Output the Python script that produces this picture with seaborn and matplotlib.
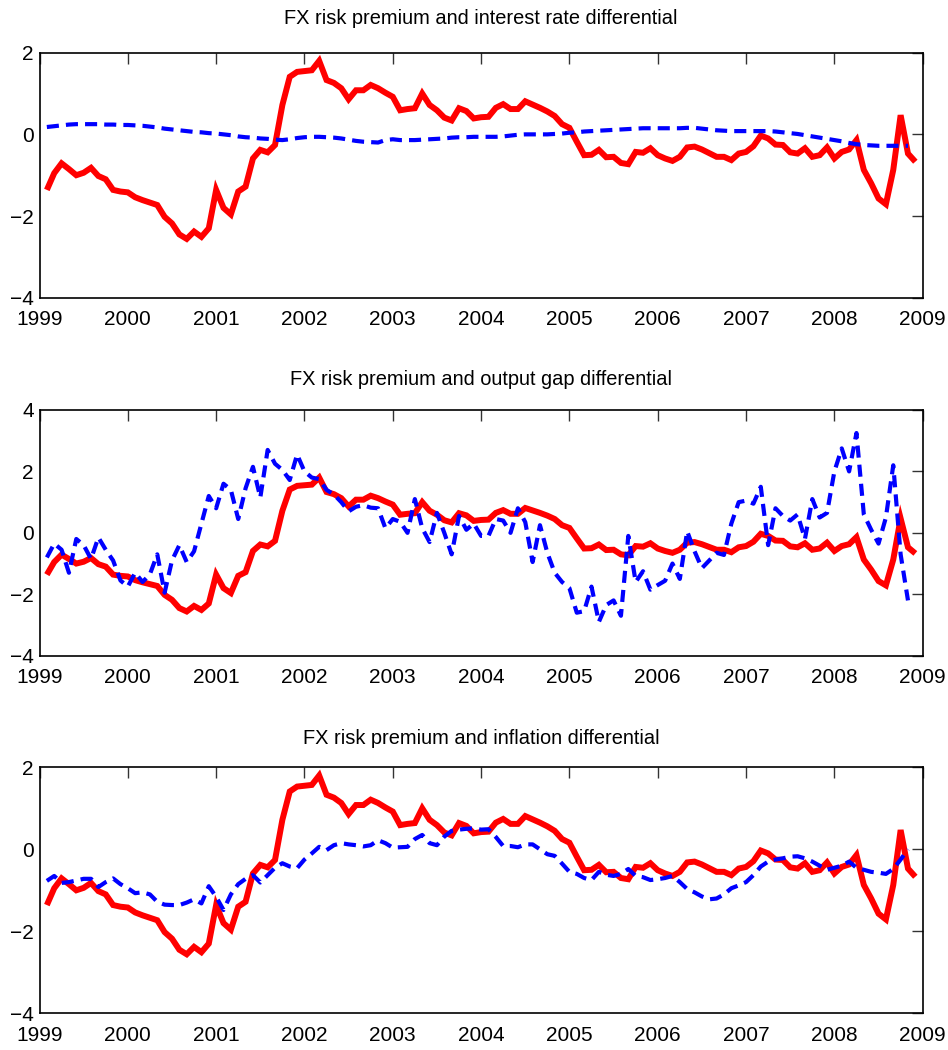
import numpy as np
import pandas as pd
import matplotlib
matplotlib.use("Agg")
import matplotlib.pyplot as plt
from matplotlib import font_manager
import seaborn as sns

# Monthly observations, January 1999 onwards
fx_premium = [
    -1.36, -0.95, -0.71, -0.85, -1.00, -0.94, -0.82, -1.02, -1.10, -1.36, -1.40, -1.42,
    -1.54, -1.61, -1.67, -1.73, -2.02, -2.18, -2.45, -2.56, -2.38, -2.51, -2.30, -1.36,
    -1.80, -1.96, -1.40, -1.28, -0.59, -0.38, -0.44, -0.26, 0.72, 1.41, 1.53, 1.55,
    1.57, 1.80, 1.33, 1.26, 1.13, 0.86, 1.08, 1.08, 1.21, 1.13, 1.02, 0.92,
    0.59, 0.62, 0.64, 1.00, 0.72, 0.59, 0.41, 0.34, 0.64, 0.57, 0.39, 0.42,
    0.43, 0.65, 0.74, 0.62, 0.62, 0.81, 0.73, 0.65, 0.56, 0.45, 0.25, 0.16,
    -0.18, -0.51, -0.50, -0.38, -0.56, -0.55, -0.70, -0.73, -0.43, -0.45, -0.34, -0.51,
    -0.59, -0.65, -0.55, -0.32, -0.30, -0.37, -0.46, -0.55, -0.55, -0.63, -0.47, -0.43,
    -0.29, -0.03, -0.10, -0.25, -0.26, -0.44, -0.47, -0.34, -0.55, -0.51, -0.32, -0.59,
    -0.43, -0.37, -0.14, -0.87, -1.20, -1.57, -1.71, -0.87, 0.47, -0.47, -0.67,
]

interest_diff = [
    0.18, 0.20, 0.22, 0.24, 0.25, 0.25, 0.25, 0.25, 0.24, 0.24, 0.23, 0.23,
    0.22, 0.21, 0.19, 0.17, 0.14, 0.12, 0.10, 0.08, 0.06, 0.05, 0.03, 0.02,
    0.00, -0.02, -0.05, -0.07, -0.08, -0.10, -0.11, -0.13, -0.14, -0.12, -0.09, -0.07,
    -0.06, -0.06, -0.07, -0.08, -0.10, -0.13, -0.16, -0.18, -0.19, -0.20, -0.14, -0.12,
    -0.14, -0.14, -0.14, -0.13, -0.12, -0.11, -0.10, -0.08, -0.07, -0.07, -0.06, -0.06,
    -0.06, -0.06, -0.05, -0.03, -0.01, 0.00, 0.00, 0.00, 0.00, 0.01, 0.02, 0.04,
    0.05, 0.07, 0.08, 0.09, 0.10, 0.11, 0.12, 0.13, 0.14, 0.15, 0.15, 0.15,
    0.15, 0.15, 0.15, 0.16, 0.16, 0.14, 0.12, 0.10, 0.09, 0.08, 0.08, 0.08,
    0.08, 0.08, 0.08, 0.07, 0.05, 0.03, 0.01, -0.02, -0.05, -0.08, -0.11, -0.14,
    -0.17, -0.21, -0.24, -0.26, -0.27, -0.28, -0.28, -0.28, -0.28, -0.28,
]

output_gap_diff = [
    -0.80, -0.35, -0.55, -1.30, -0.20, -0.40, -0.85, -0.15, -0.55, -0.90, -1.55, -1.75,
    -1.30, -1.60, -1.35, -0.70, -1.95, -0.90, -0.40, -0.95, -0.60, 0.30, 1.20, 0.80,
    1.60, 1.40, 0.45, 1.45, 2.15, 1.15, 2.70, 2.25, 2.05, 1.72, 2.55, 2.00,
    1.80, 1.75, 1.40, 1.25, 1.00, 0.70, 0.85, 0.90, 0.82, 0.80, 0.15, 0.45,
    0.36, 0.00, 1.10, 0.15, -0.30, 0.65, 0.00, -0.70, 0.55, 0.10, 0.30, -0.10,
    -0.10, 0.45, 0.40, 0.00, 0.80, 0.35, -0.95, 0.25, -0.65, -1.30, -1.60, -1.80,
    -2.60, -2.55, -1.75, -2.90, -2.35, -2.20, -2.70, -0.10, -1.60, -1.25, -1.85, -1.70,
    -1.56, -1.00, -1.50, 0.05, -0.60, -1.15, -0.90, -0.65, -0.72, 0.30, 1.00, 1.05,
    0.95, 1.50, -0.40, 0.80, 0.55, 0.40, 0.60, -0.20, 1.10, 0.50, 0.65, 2.00,
    2.75, 2.00, 3.25, 0.60, 0.10, -0.35, 0.50, 2.20, -0.70, -2.20,
]

inflation_diff = [
    -0.77, -0.65, -0.82, -0.80, -0.76, -0.72, -0.72, -0.92, -0.80, -0.71, -0.85, -0.95,
    -1.07, -1.05, -1.10, -1.28, -1.35, -1.36, -1.36, -1.30, -1.22, -1.32, -0.90, -1.16,
    -1.48, -1.10, -0.85, -0.72, -0.63, -0.81, -0.63, -0.45, -0.34, -0.42, -0.46, -0.25,
    -0.10, 0.06, -0.02, 0.10, 0.15, 0.12, 0.10, 0.07, 0.10, 0.22, 0.15, 0.04,
    0.05, 0.06, 0.25, 0.35, 0.15, 0.10, 0.31, 0.45, 0.48, 0.50, 0.51, 0.48,
    0.49, 0.30, 0.08, 0.08, 0.05, 0.12, 0.12, 0.00, -0.12, -0.16, -0.35, -0.55,
    -0.60, -0.70, -0.75, -0.55, -0.62, -0.65, -0.60, -0.48, -0.65, -0.68, -0.75, -0.73,
    -0.70, -0.65, -0.80, -0.97, -1.05, -1.15, -1.22, -1.20, -1.10, -0.95, -0.88, -0.80,
    -0.63, -0.42, -0.30, -0.25, -0.22, -0.18, -0.17, -0.22, -0.30, -0.40, -0.50, -0.45,
    -0.40, -0.30, -0.45, -0.50, -0.55, -0.57, -0.60, -0.48, -0.25, 0.00,
]

titles = [
    "FX risk premium and interest rate differential",
    "FX risk premium and output gap differential",
    "FX risk premium and inflation differential",
]
y_limits = [(-4, 2), (-4, 4), (-4, 2)]
y_ticks = [[-4, -2, 0, 2], [-4, -2, 0, 2, 4], [-4, -2, 0, 2]]
year_ticks = list(range(1999, 2010))


def decimal_years(n):
    months = pd.date_range("1999-01-01", periods=n, freq="MS")
    return months.year + months.month / 12.0


sns.set_theme(style="white")
available = {f.name for f in font_manager.fontManager.ttflist}
if "Liberation Sans Narrow" in available:
    family, tick_size, title_size = "Liberation Sans Narrow", 18, 16.5
else:
    family, tick_size, title_size = "Liberation Sans", 15, 14.4
plt.rcParams["font.family"] = [family, "DejaVu Sans"]

W, H = 948, 1050
fig = plt.figure(figsize=(W / 100, H / 100), dpi=100)

# axes boxes in pixels: (left, top, right, bottom)
boxes = [(39.5, 52.7, 922.7, 297.7), (39.5, 410.0, 922.7, 655.7), (39.5, 767.3, 922.7, 1013.3)]
title_offsets = [34, 30, 29]

blue_series = [interest_diff, output_gap_diff, inflation_diff]

for i, (l, t, r, b) in enumerate(boxes):
    ax = fig.add_axes([l / W, 1 - b / H, (r - l) / W, (b - t) / H])
    red_df = pd.DataFrame({"year": decimal_years(len(fx_premium)), "value": fx_premium})
    blue_df = pd.DataFrame({"year": decimal_years(len(blue_series[i])), "value": blue_series[i]})
    sns.lineplot(data=red_df, x="year", y="value", ax=ax, color="#ff0000",
                 linewidth=4.3, solid_joinstyle="miter", solid_capstyle="butt")
    sns.lineplot(data=blue_df, x="year", y="value", ax=ax, color="#0000ff",
                 linewidth=3.0)
    ax.lines[-1].set_dashes((2.9, 1.7))
    ax.lines[-1].set_dash_capstyle("butt")

    ax.set_xlim(1999, 2009)
    ax.set_ylim(*y_limits[i])
    ax.set_xticks(year_ticks)
    ax.set_yticks(y_ticks[i])
    ax.set_xlabel("")
    ax.set_ylabel("")
    ax.tick_params(direction="in", length=8, width=1.0, color="#333333",
                   top=True, right=True, labelsize=tick_size, pad=4,
                   labelcolor="black")
    ax.tick_params(axis="x", pad=9)
    for s in ax.spines.values():
        s.set_visible(True)
        s.set_color("black")
        s.set_linewidth(1.2)
    ax.grid(False)
    ax.text(0.5, 1 + title_offsets[i] / (b - t), titles[i], transform=ax.transAxes,
            ha="center", va="center", fontsize=title_size, color="black")

fig.savefig("out.png", dpi=100, facecolor="white")
